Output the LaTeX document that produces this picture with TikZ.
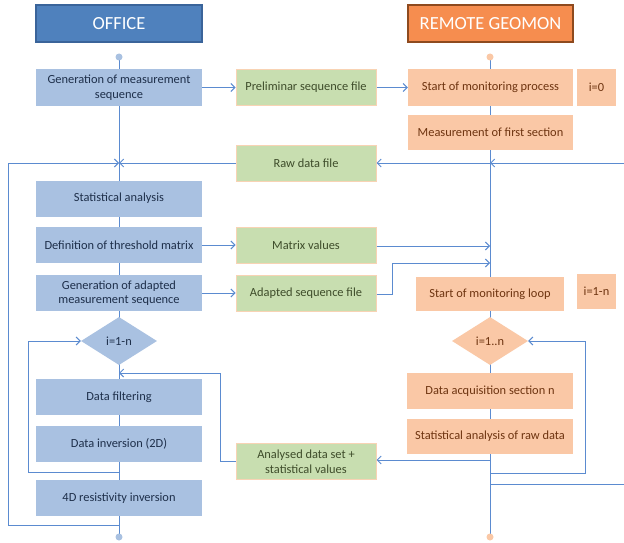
\documentclass[tikz,border=0pt]{standalone}
\usepackage{fontspec}
\setmainfont{Carlito}
\usetikzlibrary{arrows.meta,shapes.geometric}
\definecolor{offdark}{HTML}{4F81BD}
\definecolor{offedge}{HTML}{3A649A}
\definecolor{offlight}{HTML}{A9C1E1}
\definecolor{offtext}{HTML}{1E2F4A}
\definecolor{remdark}{HTML}{F68D4F}
\definecolor{remedge}{HTML}{8E4A1E}
\definecolor{remlight}{HTML}{FAC8A6}
\definecolor{remtext}{HTML}{6E3410}
\definecolor{filegreen}{HTML}{C8DEB0}
\definecolor{fileedge}{HTML}{F8D3B4}
\definecolor{filetext}{HTML}{3E4C2A}
\definecolor{flow}{HTML}{5B8BD0}
\tikzset{
  header/.style={draw=#1, line width=1.2pt, minimum width=166, minimum height=37,
    text=white, font=\fontsize{18.5}{20}\selectfont},
  officebox/.style={fill=offlight, minimum width=166, minimum height=36,
    text=offtext, align=center, font=\fontsize{12.4}{14.5}\selectfont},
  remotebox/.style={fill=remlight, minimum width=165, minimum height=36,
    text=remtext, align=center, font=\fontsize{12.4}{14.5}\selectfont},
  filebox/.style={fill=filegreen, draw=fileedge, line width=1pt, minimum width=140,
    minimum height=36, text=filetext, align=center,
    font=\fontsize{12.4}{14.5}\selectfont},
  decide/.style={diamond, aspect=1.55, minimum width=76, minimum height=48,
    inner sep=0pt, font=\fontsize{12.4}{14.5}\selectfont},
  flowline/.style={draw=flow, line width=1pt},
  flowarrow/.style={flowline, -{Straight Barb[length=4pt,width=8pt]}},
  enddot/.style={circle, minimum size=7, inner sep=0pt}
}
\begin{document}
\begin{tikzpicture}[x=1pt, y=-1pt]
    \useasboundingbox (0, 0) rectangle (624, 543) ;
    \fill[white] (0, 0) rectangle (624, 543) ;
    % spines and junctions
    \coordinate (officetop) at (119, 57) ;
    \coordinate (officeend) at (119, 537) ;
    \coordinate (remotetop) at (490, 57) ;
    \coordinate (remoteend) at (490, 537) ;
    \coordinate (rawin) at (490, 163) ;
    \coordinate (rawright) at (625, 163) ;
    \coordinate (rawleft) at (119, 163) ;
    \coordinate (outerleft) at (8, 163) ;
    \coordinate (outerjoin) at (119, 525) ;
    \coordinate (matrixin) at (490, 246) ;
    \coordinate (adaptbend) at (392, 294) ;
    \coordinate (adaptin) at (490, 263) ;
    \coordinate (innerjoin) at (119, 472) ;
    \coordinate (innerleft) at (28, 341) ;
    \coordinate (analysedbend) at (220, 461) ;
    \coordinate (analysedin) at (119, 373) ;
    \coordinate (analysedout) at (490, 460) ;
    \coordinate (loopjoin) at (490, 473) ;
    \coordinate (loopright) at (585, 341) ;
    \coordinate (outerjoinr) at (490, 484) ;
    \coordinate (outerright) at (625, 484) ;
    \draw[flowline] (officetop) -- (officeend) ;
    \draw[flowline] (remotetop) -- (remoteend) ;
    % office column
    \node[header=offedge, fill=offdark] (office) at (119, 23.5) {OFFICE} ;
    \node[enddot, fill=offlight] (dotO) at (officetop) {} ;
    \node[enddot, fill=offlight] (dotOe) at (officeend) {} ;
    \node[officebox] (gen) at (119, 87.5) {Generation of measurement\\sequence} ;
    \node[officebox] (stat) at (119, 198.5) {Statistical analysis} ;
    \node[officebox] (def) at (119, 245) {Definition of threshold matrix} ;
    \node[officebox] (adapt) at (119, 293) {Generation of adapted\\measurement sequence} ;
    \node[decide, fill=offlight, text=offtext] (diamO) at (119, 341) {i=1-n} ;
    \node[officebox] (filt) at (119, 397) {Data filtering} ;
    \node[officebox] (inv) at (119, 444) {Data inversion (2D)} ;
    \node[officebox] (res) at (119, 498) {4D resistivity inversion} ;
    % files
    \node[filebox] (prelim) at (306, 87.5) {Preliminar sequence file} ;
    \node[filebox] (raw) at (306, 163) {Raw data file} ;
    \node[filebox] (matrix) at (306, 245) {Matrix values} ;
    \node[filebox] (adaptfile) at (306, 293) {Adapted sequence file} ;
    \node[filebox] (analysed) at (306, 461.5) {Analysed data set +\\statistical values} ;
    % remote column
    \node[header=remedge, fill=remdark, minimum width=165] (remote) at (490.5, 23.5) {REMOTE GEOMON} ;
    \node[enddot, fill=remlight] (dotR) at (remotetop) {} ;
    \node[enddot, fill=remlight] (dotRe) at (remoteend) {} ;
    \node[remotebox] (start) at (490.5, 87.5) {Start of monitoring process} ;
    \node[remotebox, minimum width=39] (izero) at (596.5, 87.5) {i=0} ;
    \node[remotebox, minimum height=35] (meas) at (490.5, 132.5) {Measurement of first section} ;
    \node[remotebox, minimum width=148, minimum height=34] (loop) at (490, 294) {Start of monitoring loop} ;
    \node[remotebox, minimum width=39, minimum height=35] (ione) at (596.5, 291.5) {i=1-n} ;
    \node[decide, fill=remlight, text=remtext] (diamR) at (490, 341) {i=1..n} ;
    \node[remotebox, minimum width=166] (acq) at (490, 391) {Data acquisition section n} ;
    \node[remotebox, minimum width=166, minimum height=35] (statraw) at (490, 436.5) {Statistical analysis of raw data} ;
    % connectors
    \draw[flowarrow] (gen.east) -- (prelim.west) ;
    \draw[flowarrow] (prelim.east) -- (start.west) ;
    \draw[flowarrow] (rawright) -- (rawin) ;
    \draw[flowarrow] (rawin) -- (raw.east) ;
    \draw[flowarrow] (raw.west) -- (rawleft) ;
    \draw[flowarrow] (outerjoin) -| (outerleft) -- (rawleft) ;
    \draw[flowarrow] (def.east) -- (matrix.west) ;
    \draw[flowarrow] (matrix.east |- matrixin) -- (matrixin) ;
    \draw[flowarrow] (adapt.east) -- (adaptfile.west) ;
    \draw[flowarrow] (adaptfile.east |- adaptbend) -- (adaptbend) |- (adaptin) ;
    \draw[flowarrow] (innerjoin) -| (innerleft) -- (diamO.west) ;
    \draw[flowarrow] (analysed.west |- analysedbend) -- (analysedbend) |- (analysedin) ;
    \draw[flowarrow] (analysedout) -- (analysed.east |- analysedout) ;
    \draw[flowarrow] (loopjoin) -| (loopright) -- (diamR.east) ;
    \draw[flowline] (outerjoinr) -- (outerright) -- (rawright) ;
\end{tikzpicture}
\end{document}
